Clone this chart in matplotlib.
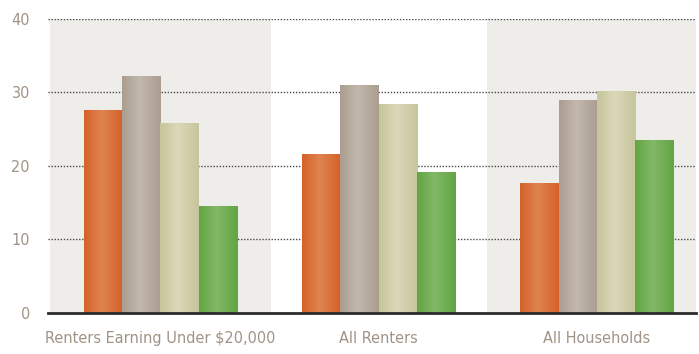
import matplotlib
matplotlib.use("Agg")
import matplotlib.pyplot as plt
import numpy as np
from matplotlib.colors import LinearSegmentedColormap

groups = ["Renters Earning Under $20,000", "All Renters", "All Households"]
series_orange = [27.6, 21.6, 17.7]
series_gray = [32.2, 31.0, 28.9]
series_beige = [25.8, 28.4, 30.1]
series_green = [14.5, 19.2, 23.5]
yticks = [0, 10, 20, 30, 40]

# edge colour, highlight colour for each series
shades = [("#D5612A", "#E0844F"),
          ("#AB9D90", "#C2B8AD"),
          ("#C6C59C", "#DAD8B8"),
          ("#62A543", "#82B867")]

plt.rcParams['font.family'] = ['DejaVu Sans']
plt.rcParams['font.stretch'] = 'condensed'
txt = "#A09386"

fig = plt.figure(figsize=(6.99, 3.54), dpi=100)
ax = fig.add_axes([0.0687, 0.1158, 0.9270, 0.8319])

x = np.arange(len(groups))
w = 0.1755
ax.set_xlim(-0.515, 2.454)
ax.set_ylim(0, 40)

# shaded bands behind first and last group
for gi in (0, 2):
    ax.axvspan(gi - 0.505, gi + 0.505, color="#EFEDE9", zorder=0, lw=0)

for yv in yticks[1:]:
    ax.axhline(yv, color="#4a4a4a", lw=1.0, ls=(0, (1, 1.2)), zorder=1)

data = [series_orange, series_gray, series_beige, series_green]
grad = np.linspace(0, 1, 64).reshape(1, -1)
for i, (vals, (edge, light)) in enumerate(zip(data, shades)):
    cmap = LinearSegmentedColormap.from_list(
        "g%d" % i, [(0, edge), (0.45, light), (1, edge)])
    bars = ax.bar(x + (i - 1.5) * w, vals, w, color=edge, lw=0, zorder=2)
    for b in bars:
        x0, y0 = b.get_x(), b.get_y()
        im = ax.imshow(grad, cmap=cmap, aspect="auto", zorder=2.5,
                       extent=(x0, x0 + b.get_width(), y0, y0 + b.get_height()),
                       interpolation="bilinear")
        im.set_clip_path(b)

ax.axhline(0, color="#2b2b2b", lw=2.0, zorder=4, clip_on=False)

for s in ax.spines.values():
    s.set_visible(False)
ax.set_xticks(x)
ax.set_xticklabels(groups)
ax.set_yticks(yticks)
ax.tick_params(length=0, colors=txt, labelsize=11.6)
ax.tick_params(axis="y", pad=13)
ax.tick_params(axis="x", pad=13)

fig.savefig("out.png", dpi=100)
